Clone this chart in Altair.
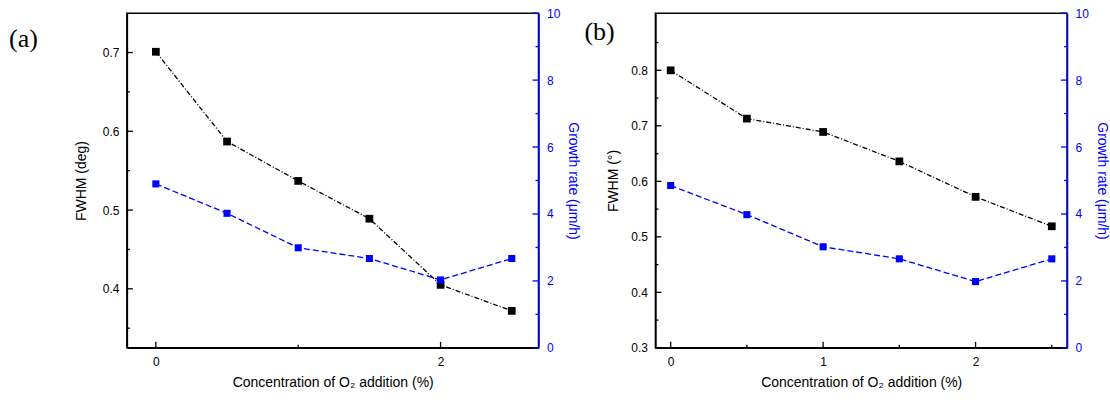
import altair as alt
import pandas as pd

# ---- data ----
x_vals = [0, 0.5, 1, 1.5, 2, 2.5]
fwhm_a = [0.701, 0.587, 0.537, 0.489, 0.405, 0.372]
rate_a = [4.90, 4.02, 2.99, 2.67, 2.03, 2.67]
fwhm_b = [0.800, 0.713, 0.689, 0.636, 0.572, 0.519]
rate_b = [4.85, 3.98, 3.02, 2.66, 1.98, 2.66]

xmaj_a = [0, 2]
xmin_a = [1]
xmaj_b = [0, 1, 2]
xmin_b = [0.5, 1.5, 2.5]
ymaj_a = [0.4, 0.5, 0.6, 0.7]
ymin_a = [0.35, 0.45, 0.55, 0.65]
ymaj_b = [0.3, 0.4, 0.5, 0.6, 0.7, 0.8]
ymin_b = [0.35, 0.45, 0.55, 0.65, 0.75, 0.85]
rmaj = [0, 2, 4, 6, 8, 10]
rmin = [1, 3, 5, 7, 9]

W, H = 412, 335
BLUE = "#0000FF"
XTITLE = "Concentration of O\u2082 addition (%)"
RTITLE = "Growth rate (\u03bcm/h)"


def ticks_y(vals, field, scale, color, xpos, length):
    return alt.Chart(pd.DataFrame({field: vals})).mark_tick(
        orient="horizontal", color=color, size=length, thickness=1.3, opacity=1
    ).encode(y=alt.Y(f"{field}:Q", scale=scale, axis=None), x=alt.value(xpos))


def ticks_x(vals, scale, length):
    return alt.Chart(pd.DataFrame({"x": vals})).mark_tick(
        orient="vertical", color="black", size=length, thickness=1.3, opacity=1
    ).encode(x=alt.X("x:Q", scale=scale), y=alt.value(H - length / 2))


def panel(xdom, xmaj, xmin, ydom, ymaj, ymin, fwhm, rate, ytitle, tag, tagx, tagy, ltp):
    df = pd.DataFrame({"x": x_vals, "f": fwhm, "r": rate})
    xs = alt.Scale(domain=xdom, nice=False, zero=False)
    ys = alt.Scale(domain=ydom, nice=False, zero=False)
    rs = alt.Scale(domain=[0, 10], nice=False, zero=False)
    xax = alt.Axis(values=xmaj, title=XTITLE, ticks=False, labelPadding=9,
                   titlePadding=8, format="d", domainColor="black")
    base = alt.Chart(df)
    line_k = base.mark_line(color="black", strokeWidth=1.3, strokeDash=[5, 2, 1, 2]).encode(
        x=alt.X("x:Q", scale=xs, axis=xax),
        y=alt.Y("f:Q", scale=ys, axis=alt.Axis(values=ymaj, format=".1f", ticks=False,
                                                title=ytitle, titlePadding=ltp, labelPadding=8,
                                                domainColor="black")),
    )
    pts_k = base.mark_square(color="black", size=60, opacity=1).encode(
        x=alt.X("x:Q", scale=xs), y=alt.Y("f:Q", scale=ys, axis=None))
    line_b = base.mark_line(color=BLUE, strokeWidth=1.3, strokeDash=[6, 3]).encode(
        x=alt.X("x:Q", scale=xs),
        y=alt.Y("r:Q", scale=rs, axis=alt.Axis(orient="right", values=rmaj, ticks=False,
                                                title=RTITLE, titleColor=BLUE, labelColor=BLUE,
                                                domainColor=BLUE, labelPadding=8, titlePadding=6,
                                                zindex=2)),
    )
    pts_b = base.mark_square(color=BLUE, size=50, opacity=1).encode(
        x=alt.X("x:Q", scale=xs), y=alt.Y("r:Q", scale=rs, axis=None))
    tag_t = alt.Chart(pd.DataFrame({"t": [tag]})).mark_text(
        font="Liberation Serif", fontSize=26, align="left", baseline="middle", color="black"
    ).encode(x=alt.value(tagx), y=alt.value(tagy), text="t:N")

    layers = [
        line_k, line_b, pts_k, pts_b,
        ticks_y(ymaj, "f", ys, "black", 3, 6),
        ticks_y(ymin, "f", ys, "black", 1.5, 3),
        ticks_y(rmaj, "r", rs, BLUE, W - 3, 6),
        ticks_y(rmin, "r", rs, BLUE, W - 1.5, 3),
        ticks_x(xmaj, xs, 6),
        ticks_x(xmin, xs, 3),
        tag_t,
    ]
    return alt.layer(*layers).resolve_scale(y="independent").properties(width=W, height=H)


pa = panel([-0.2035, 2.688], xmaj_a, xmin_a, [0.325, 0.75], ymaj_a, ymin_a,
           fwhm_a, rate_a, "FWHM (deg)", "(a)", -118, 26, 14)
pb = panel([-0.1, 2.6], xmaj_b, xmin_b, [0.3, 0.903], ymaj_b, ymin_b,
           fwhm_b, rate_b, "FWHM (\u00b0)", "(b)", -71, 19, 10)

chart = alt.hconcat(pa, pb, spacing=2).properties(
    padding={"left": 8, "top": 6, "right": 0, "bottom": 0},
    background="white",
).configure_view(stroke="black", strokeWidth=1.5).configure_axis(
    labelFont="Liberation Sans", titleFont="Liberation Sans", labelFontSize=12,
    titleFontSize=14, titleFontWeight="normal", grid=False, domainWidth=1.5,
    labelColor="black", titleColor="black",
)

chart.save("out.html", embed_options={"renderer": "svg", "actions": False})
